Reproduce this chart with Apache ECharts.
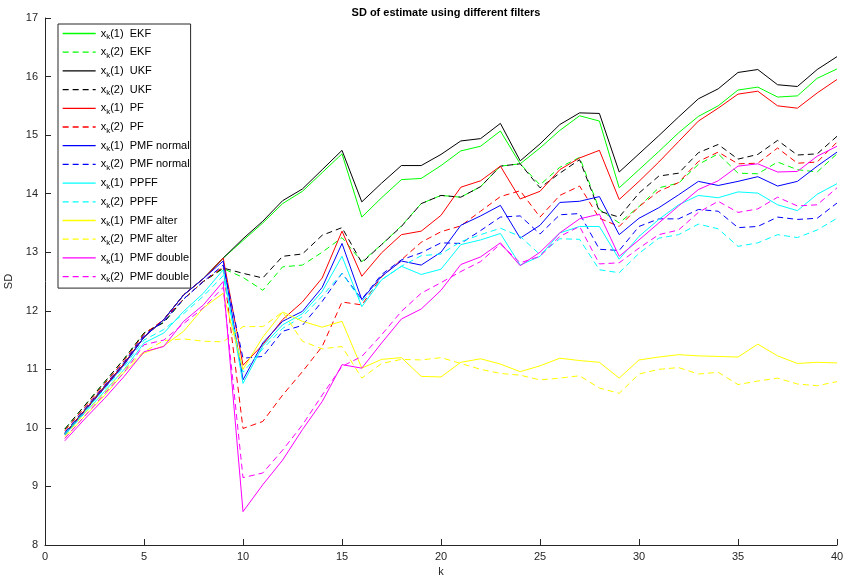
<!DOCTYPE html>
<html>
<head>
<meta charset="utf-8">
<script src="https://cdn.jsdelivr.net/npm/echarts@6/dist/echarts.min.js"></script>
<style>
  html, body { margin: 0; padding: 0; background: #fff; }
  #chart { width: 845px; height: 583px; }
</style>
</head>
<body>
<div id="chart"></div>
<script>
// 横轴 k
const ks = [1, 2, 3, 4, 5, 6, 7, 8, 9, 10, 11, 12, 13, 14, 15, 16, 17, 18, 19, 20,
            21, 22, 23, 24, 25, 26, 27, 28, 29, 30, 31, 32, 33, 34, 35, 36, 37, 38, 39, 40];

// 各滤波器的 SD 数据
const ekf1 = [9.9, 10.3, 10.7, 11.1, 11.55, 11.85, 12.27, 12.55, 12.9,
  13.2, 13.5, 13.83, 14.04, 14.36, 14.68, 13.6, 13.93, 14.24, 14.26,
  14.48, 14.73, 14.81, 15.07, 14.51, 14.78, 15.08, 15.33, 15.24, 14.1,
  14.41, 14.72, 15.04, 15.32, 15.5, 15.77, 15.82, 15.65, 15.67, 15.97, 16.13];
const ekf2 = [9.98, 10.38, 10.78, 11.18, 11.62, 11.8, 12.2, 12.5, 12.72,
  12.57, 12.35, 12.75, 12.78, 13.0, 13.25, 12.84, 13.13, 13.45, 13.83,
  13.97, 13.94, 14.12, 14.47, 14.51, 14.15, 14.45, 14.62, 13.73, 13.5,
  13.78, 14.1, 14.18, 14.5, 14.68, 14.35, 14.34, 14.54, 14.41, 14.37, 14.68];
const ukf1 = [9.9, 10.3, 10.7, 11.1, 11.55, 11.85, 12.27, 12.55, 12.9,
  13.23, 13.53, 13.88, 14.08, 14.41, 14.74, 13.86, 14.18, 14.48, 14.48,
  14.67, 14.9, 14.94, 15.2, 14.56, 14.85, 15.18, 15.38, 15.37, 14.37,
  14.68, 14.99, 15.31, 15.62, 15.79, 16.07, 16.12, 15.86, 15.83, 16.12, 16.34];
const ukf2 = [9.98, 10.38, 10.78, 11.18, 11.62, 11.8, 12.2, 12.5, 12.73,
  12.64, 12.56, 12.93, 12.97, 13.29, 13.42, 12.82, 13.13, 13.44, 13.83,
  13.97, 13.94, 14.12, 14.47, 14.51, 14.1, 14.35, 14.58, 13.7, 13.6,
  14.01, 14.3, 14.35, 14.7, 14.84, 14.59, 14.67, 14.91, 14.66, 14.68, 14.98];
const pf1 = [9.9, 10.3, 10.7, 11.1, 11.55, 11.85, 12.27, 12.55, 12.9,
  11.07, 11.42, 11.85, 12.15, 12.56, 13.36, 12.59, 12.99, 13.3, 13.36,
  13.63, 14.11, 14.22, 14.47, 13.91, 14.04, 14.41, 14.61, 14.74, 13.9,
  14.21, 14.54, 14.89, 15.24, 15.46, 15.7, 15.75, 15.5, 15.46, 15.72, 15.95];
const pf2 = [9.95, 10.35, 10.75, 11.15, 11.6, 11.85, 12.2, 12.5, 12.75,
  9.99, 10.11, 10.56, 10.96, 11.39, 12.15, 12.1, 12.58, 12.87, 13.17,
  13.35, 13.45, 13.7, 13.95, 14.05, 13.6, 13.97, 14.13, 13.58, 13.44,
  13.78, 14.04, 14.19, 14.55, 14.71, 14.51, 14.52, 14.78, 14.52, 14.54, 14.88];
const pmfN1 = [9.88, 10.28, 10.68, 11.08, 11.55, 11.85, 12.27, 12.55, 12.85,
  10.82, 11.45, 11.82, 11.99, 12.4, 13.15, 12.19, 12.59, 12.85, 12.78,
  13.0, 13.46, 13.62, 13.8, 13.24, 13.46, 13.85, 13.87, 13.95, 13.3,
  13.58, 13.76, 13.98, 14.21, 14.14, 14.21, 14.29, 14.13, 14.21, 14.47, 14.71];
const pmfN2 = [9.92, 10.32, 10.72, 11.12, 11.58, 11.82, 12.2, 12.5, 12.78,
  11.19, 11.22, 11.65, 11.75, 12.16, 12.64, 12.2, 12.62, 12.87, 12.99,
  13.16, 13.15, 13.37, 13.6, 13.62, 13.31, 13.64, 13.66, 13.05, 13.03,
  13.44, 13.57, 13.57, 13.73, 13.7, 13.42, 13.44, 13.6, 13.56, 13.58, 13.84];
const ppff1 = [9.88, 10.25, 10.62, 11.0, 11.45, 11.62, 11.99, 12.3, 12.7,
  10.76, 11.4, 11.76, 11.95, 12.33, 12.93, 12.07, 12.53, 12.76, 12.62,
  12.71, 13.13, 13.21, 13.32, 12.78, 12.93, 13.33, 13.44, 13.44, 12.88,
  13.27, 13.56, 13.81, 13.97, 13.93, 14.03, 14.01, 13.81, 13.71, 13.99, 14.17];
const ppff2 = [9.9, 10.28, 10.66, 11.05, 11.5, 11.68, 11.95, 12.25, 12.6,
  10.95, 11.35, 11.7, 11.9, 12.25, 12.64, 12.16, 12.53, 12.76, 12.94,
  12.97, 13.18, 13.3, 13.41, 13.27, 12.96, 13.23, 13.22, 12.7, 12.65,
  12.98, 13.24, 13.3, 13.48, 13.4, 13.1, 13.16, 13.3, 13.25, 13.38, 13.58];
const alter1 = [9.82, 10.2, 10.55, 10.95, 11.28, 11.4, 11.65, 12.05, 12.3,
  11.0, 11.55, 11.98, 11.82, 11.72, 11.82, 11.02, 11.17, 11.2, 10.88,
  10.87, 11.12, 11.18, 11.09, 10.96, 11.06, 11.19, 11.15, 11.12, 10.85,
  11.16, 11.21, 11.25, 11.23, 11.22, 11.21, 11.43, 11.23, 11.1, 11.12, 11.11];
const alter2 = [9.85, 10.25, 10.6, 11.0, 11.3, 11.49, 11.52, 11.48, 11.47,
  11.73, 11.73, 11.98, 11.48, 11.35, 11.39, 10.85, 11.1, 11.17, 11.16,
  11.2, 11.1, 11.0, 10.93, 10.9, 10.82, 10.85, 10.89, 10.68, 10.59,
  10.92, 11.0, 11.03, 10.92, 10.95, 10.74, 10.8, 10.85, 10.75, 10.72, 10.79];
const double1 = [9.78, 10.15, 10.5, 10.88, 11.3, 11.39, 11.82, 12.1, 12.5,
  8.57, 9.03, 9.45, 9.97, 10.45, 11.08, 11.02, 11.45, 11.86, 12.03,
  12.35, 12.79, 12.92, 13.16, 12.77, 13.0, 13.33, 13.57, 13.65, 12.93,
  13.21, 13.5, 13.79, 14.07, 14.22, 14.47, 14.51, 14.37, 14.38, 14.64, 14.81];
const double2 = [9.82, 10.2, 10.58, 10.95, 11.42, 11.5, 11.78, 12.05, 12.4,
  9.15, 9.23, 9.62, 10.05, 10.56, 11.05, 11.22, 11.59, 11.99, 12.3,
  12.48, 12.67, 12.84, 13.14, 12.82, 12.93, 13.27, 13.44, 12.8, 12.82,
  13.07, 13.3, 13.38, 13.68, 13.87, 13.68, 13.74, 13.94, 13.79, 13.81, 14.1];

// 图例名称与样式
const names = ['x_k(1)  EKF', 'x_k(2)  EKF', 'x_k(1)  UKF', 'x_k(2)  UKF',
  'x_k(1)  PF', 'x_k(2)  PF', 'x_k(1)  PMF normal', 'x_k(2)  PMF normal',
  'x_k(1)  PPFF', 'x_k(2)  PPFF', 'x_k(1)  PMF alter', 'x_k(2)  PMF alter',
  'x_k(1)  PMF double', 'x_k(2)  PMF double'];
const values = [ekf1, ekf2, ukf1, ukf2, pf1, pf2, pmfN1, pmfN2, ppff1, ppff2, alter1, alter2, double1, double2];
const colors = ['#00ff00', '#00ff00', '#000000', '#000000', '#ff0000', '#ff0000', '#0000ff', '#0000ff',
  '#00ffff', '#00ffff', '#ffff00', '#ffff00', '#ff00ff', '#ff00ff'];

const chart = echarts.init(document.getElementById('chart'));
const font = 'Liberation Sans, Arial, Helvetica, sans-serif';
const axisColor = '#262626';

const series = names.map((name, i) => ({
  name: name,
  type: 'line',
  data: ks.map((k, j) => [k, values[i][j]]),
  symbol: 'none',
  animation: false,
  lineStyle: {
    color: colors[i],
    width: 1,
    type: i % 2 === 1 ? [6, 4] : 'solid'
  },
  itemStyle: { color: colors[i] }
}));

const option = {
  backgroundColor: '#fff',
  animation: false,
  title: {
    text: 'SD of estimate using different filters',
    left: 441, top: 2, textAlign: 'center',
    textStyle: { fontFamily: font, fontSize: 11, fontWeight: 'bold', color: '#000' }
  },
  legend: {
    show: true,
    orient: 'vertical',
    left: 58, top: 24,
    itemWidth: 33, itemHeight: 14, itemGap: 3.7,
    padding: [2, 1, 4, 4],
    backgroundColor: '#fff',
    borderColor: axisColor, borderWidth: 1,
    itemStyle: { opacity: 0 },
    lineStyle: { width: 1.3 },
    data: names,
    formatter: function (n) { return n.replace('x_k', 'x{s|k}'); },
    textStyle: {
      fontFamily: font, fontSize: 11, color: '#000', lineHeight: 14,
      rich: { s: { fontFamily: font, fontSize: 8, color: '#000', lineHeight: 14, padding: [7, 0, 0, 0] } }
    }
  },
  grid: { left: 45, right: 8, top: 18, bottom: 38, outerBoundsMode: 'none' },
  xAxis: {
    type: 'value', min: 0, max: 40, interval: 5,
    name: 'k', nameLocation: 'middle', nameGap: 20,
    nameTextStyle: { fontFamily: font, fontSize: 11, color: axisColor },
    axisLine: { lineStyle: { color: axisColor, width: 1 } },
    axisTick: { inside: true, length: 6, lineStyle: { color: axisColor } },
    axisLabel: { fontFamily: font, fontSize: 11, color: axisColor, margin: 6 },
    splitLine: { show: false }
  },
  yAxis: {
    type: 'value', min: 8, max: 17, interval: 1,
    name: 'SD', nameLocation: 'middle', nameGap: 22,
    nameTextStyle: { fontFamily: font, fontSize: 11, color: axisColor },
    axisLine: { show: true, lineStyle: { color: axisColor, width: 1 } },
    axisTick: { show: true, inside: true, length: 6, lineStyle: { color: axisColor } },
    axisLabel: { fontFamily: font, fontSize: 11, color: axisColor, margin: 7 },
    splitLine: { show: false }
  },
  series: series
};

chart.setOption(option);
</script>
</body>
</html>
